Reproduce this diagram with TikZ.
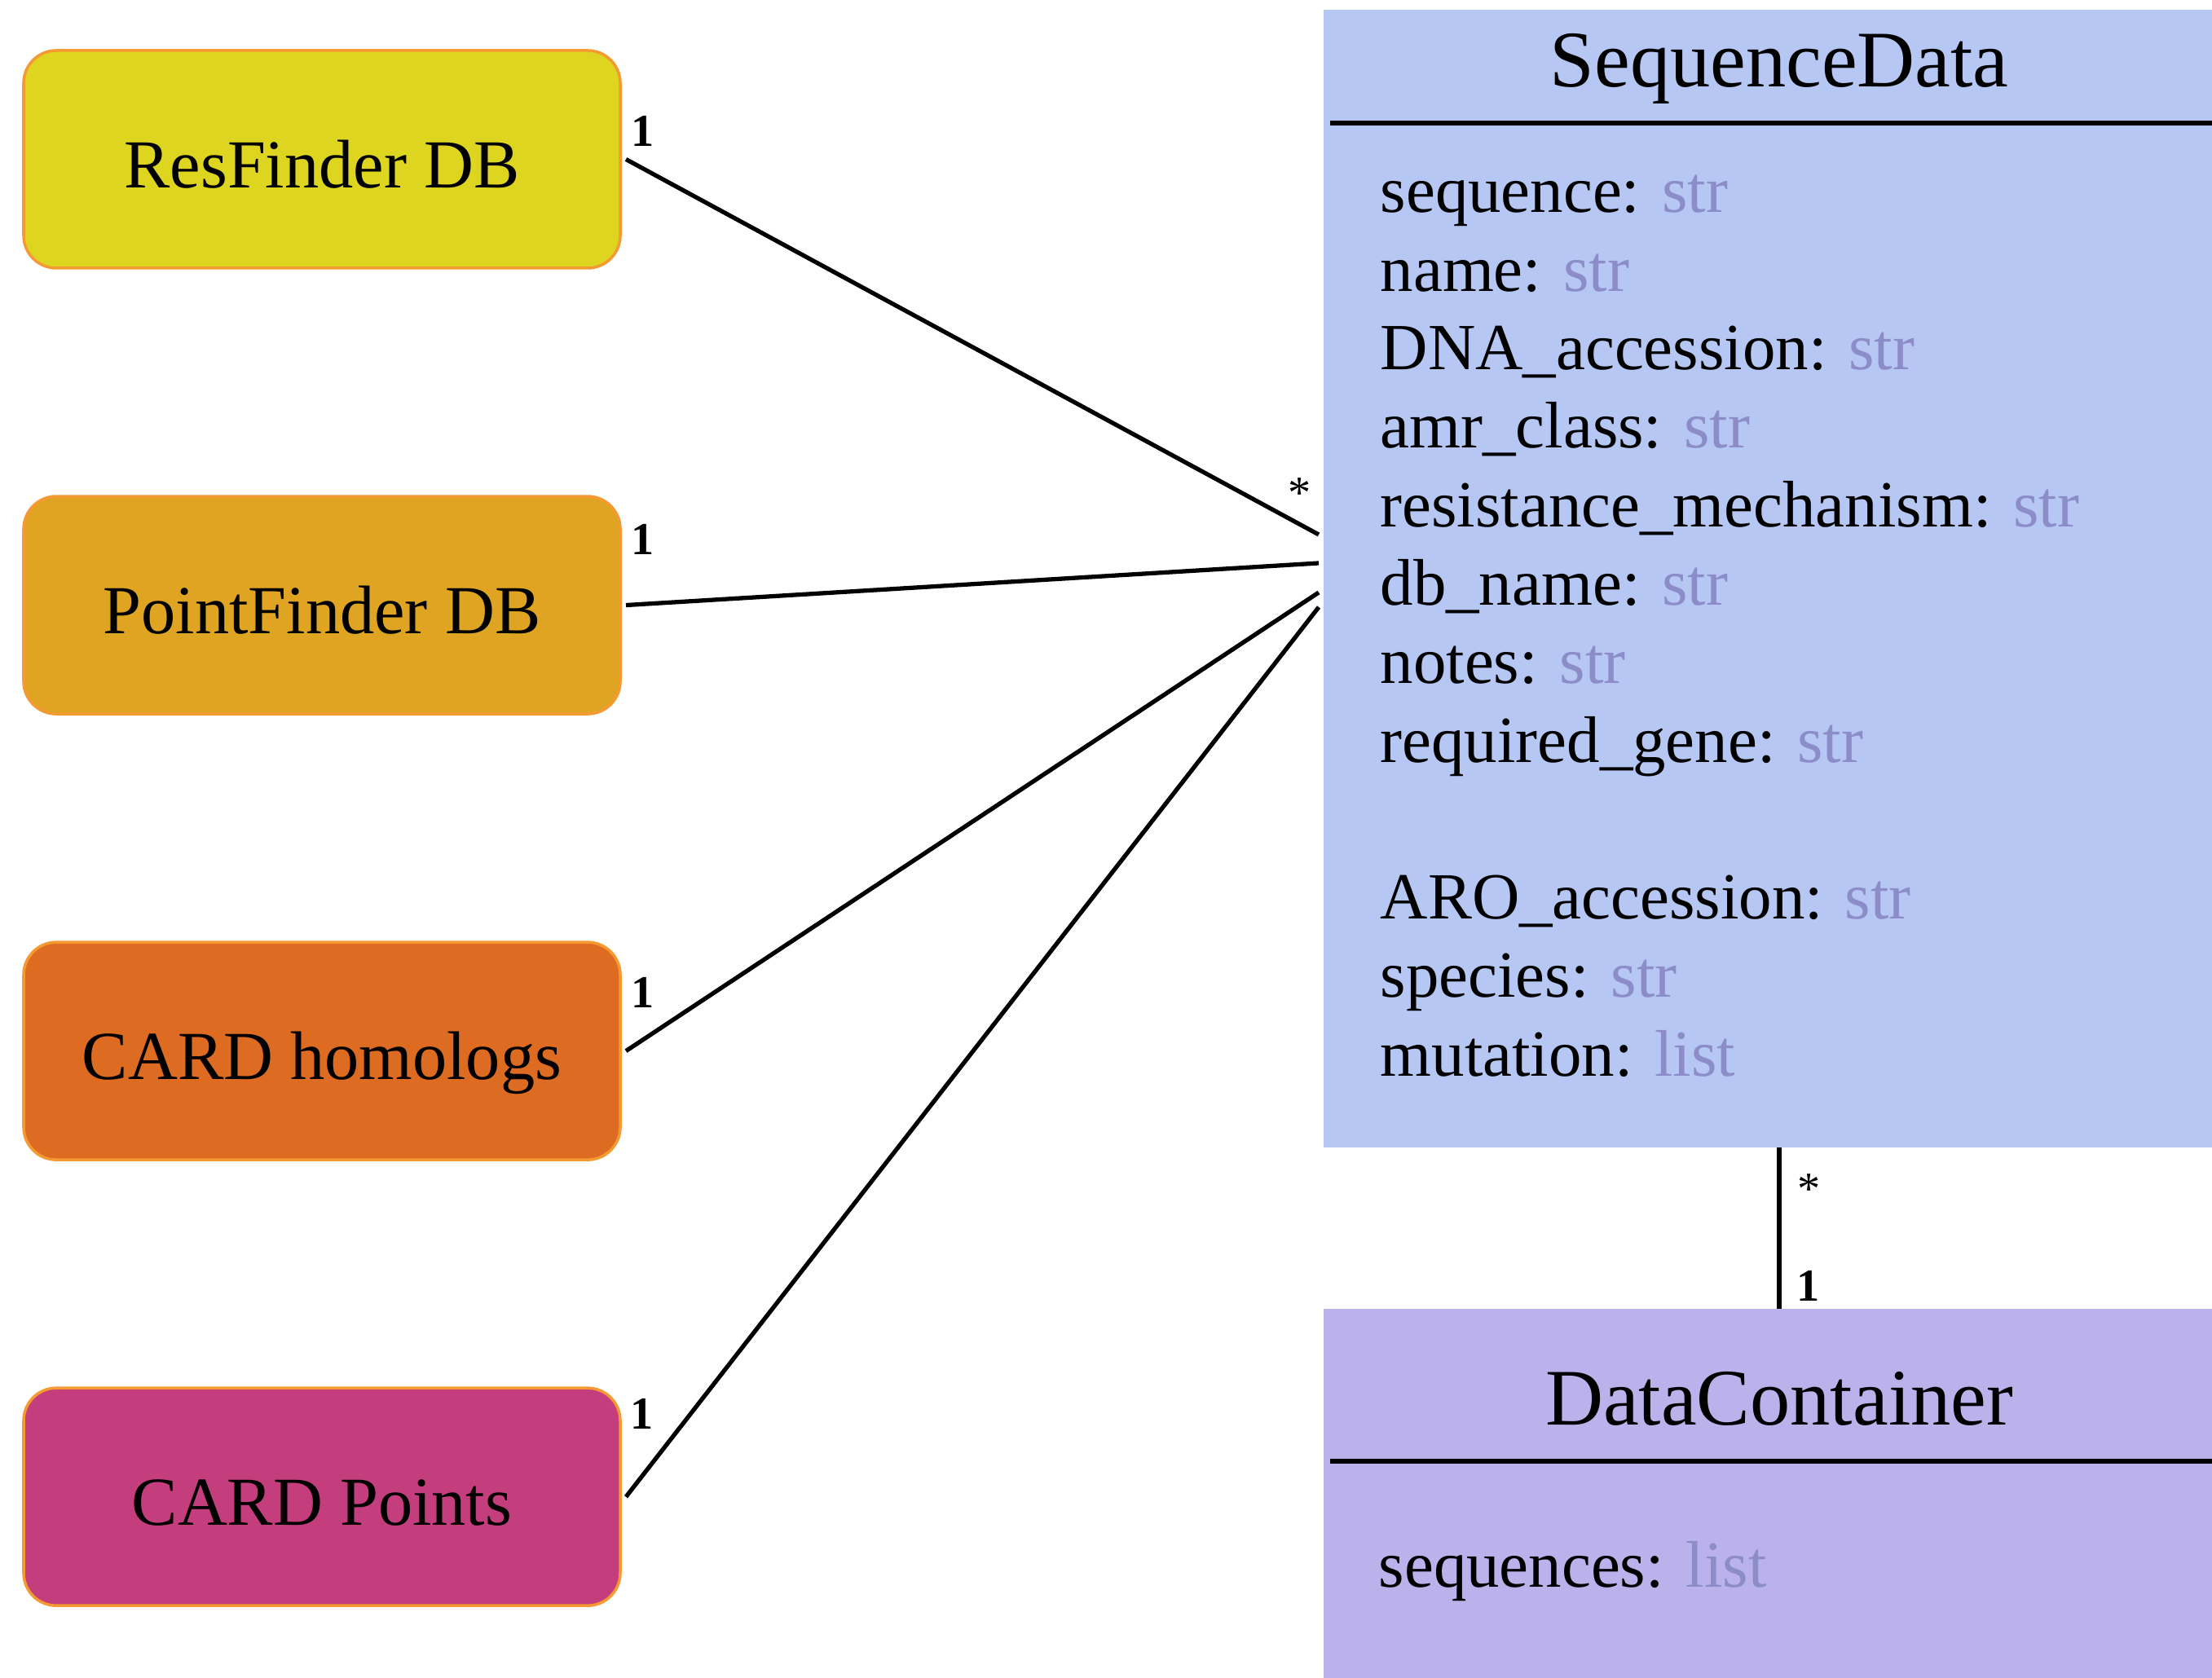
\documentclass[tikz,border=0pt]{standalone}
\usepackage{fontspec}
\setmainfont{Liberation Serif}
\usetikzlibrary{positioning, calc}

\definecolor{resfinder}{HTML}{DED520}
\definecolor{pointfinder}{HTML}{DFA522}
\definecolor{cardhomolog}{HTML}{DE6B22}
\definecolor{cardpoint}{HTML}{C43D7C}
\definecolor{dbborder}{HTML}{F59A32}
\definecolor{seqfill}{HTML}{B5C7F2}
\definecolor{contfill}{HTML}{BBB2EC}
\definecolor{typecol}{HTML}{8C8CC8}

\newcommand{\attrtype}[1]{\textcolor{typecol}{#1}}

\tikzstyle{db_node} = [
    rectangle,
    rounded corners=0.4cm,
    draw=dbborder,
    line width=1pt,
    font=\fontsize{24}{29}\selectfont,
    align=center,
    text height=20pt,
    text depth=0pt,
    minimum width=7.32cm,
    minimum height=2.67cm,
    outer sep=2pt % gap before the link starts
]
\tikzstyle{class_box} = [
    rectangle,
    inner sep=0pt,
    outer sep=0pt,
    minimum width=11.18cm
]
\tikzstyle{class_title} = [
    font=\fontsize{28}{33}\selectfont,
    anchor=base,
    inner sep=0pt
]
\tikzstyle{attr} = [
    font=\fontsize{23}{28}\selectfont,
    anchor=base west,
    inner sep=0pt
]
\tikzstyle{mult} = [
    font=\fontsize{16}{19}\selectfont,
    anchor=base,
    inner sep=0pt
]
\tikzstyle{link} = [line width=1.5pt]
\tikzstyle{sep_line} = [line width=1.5pt]

\begin{document}
\begin{tikzpicture}
\useasboundingbox (0,0) rectangle (27.14,20.58);
\clip (0,0) rectangle (27.14,20.58);

% databases
\node [db_node, fill=resfinder] (res) at (3.95,18.625) {ResFinder DB};
\node [db_node, fill=pointfinder, below=2.66cm of res] (point) {PointFinder DB};
\node [db_node, fill=cardhomolog, below=2.66cm of point] (homolog) {CARD homologs};
\node [db_node, fill=cardpoint, below=2.66cm of homolog] (cardpts) {CARD Points};

% classes
\node [class_box, fill=seqfill, anchor=north west, minimum height=13.96cm] (seqdata) at (16.24,20.46) {};
\node [class_box, fill=contfill, minimum height=4.6cm, below=1.98cm of seqdata] (datacont) {};

\node [class_title] (seq_title) at ($(seqdata.north)+(0,-0.95)$) {SequenceData};
\draw [sep_line] ($(seqdata.north west)+(0.08,-1.39)$) -- ($(seqdata.north east)+(0,-1.39)$);
\foreach \i/\attrname/\kind in {0/sequence/str, 1/name/str, 2/DNA\_accession/str,
    3/amr\_class/str, 4/resistance\_mechanism/str, 5/db\_name/str, 6/notes/str,
    7/required\_gene/str, 9/ARO\_accession/str, 10/species/str, 11/mutation/list}
    \node [attr] (attr\i) at (16.93,{17.97-0.963*\i}) {\attrname: \attrtype{\kind}};

\node [class_title] (cont_title) at ($(datacont.north)+(0,-1.42)$) {DataContainer};
\draw [sep_line] ($(datacont.north west)+(0.08,-1.87)$) -- ($(datacont.north east)+(0,-1.87)$);
\node [attr] (cont_attr) at (16.91,1.11) {sequences: \attrtype{list}};

% links
\coordinate (seq_in_1) at ($(seqdata.west)+(-0.06,0.54)$);
\coordinate (seq_in_2) at ($(seqdata.west)+(-0.06,0.19)$);
\coordinate (seq_in_3) at ($(seqdata.west)+(-0.06,-0.17)$);
\coordinate (seq_in_4) at ($(seqdata.west)+(-0.06,-0.35)$);
\draw [link] (res.east) -- (seq_in_1);
\draw [link] (point.east) -- (seq_in_2);
\draw [link] (homolog.east) -- (seq_in_3);
\draw [link] (cardpts.east) -- (seq_in_4);
\draw [link] (seqdata.south) -- (datacont.north);

\node [mult] (res_one) at (7.89,18.78) {\textbf{1}};
\node [mult] (point_one) at (7.89,13.77) {\textbf{1}};
\node [mult] (homolog_one) at (7.89,8.21) {\textbf{1}};
\node [mult] (cardpts_one) at (7.88,3.05) {\textbf{1}};
\node [mult] (seq_many) at (15.95,14.34) {*};
\node [mult] (down_many) at (22.20,5.80) {*};
\node [mult] (down_one) at (22.19,4.61) {\textbf{1}};
\end{tikzpicture}
\end{document}
